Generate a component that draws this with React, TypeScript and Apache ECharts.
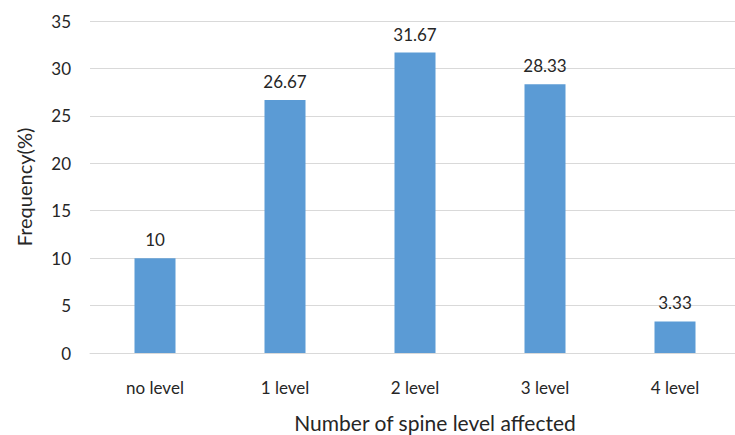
import React, { useEffect, useRef } from "react";
import * as echarts from "echarts";

const categories = ["no level", "1 level", "2 level", "3 level", "4 level"];
const frequencies = [10, 26.67, 31.67, 28.33, 3.33];
const yTicks = { min: 0, max: 35, interval: 5 };
const xTitle = "Number of spine level affected";
const yTitle = "Frequency(%)";

export default function App() {
  const ref = useRef<HTMLDivElement>(null);
  useEffect(() => {
    if (!ref.current) return;
    const chart = echarts.init(ref.current, undefined, { renderer: "svg" });
    const font = "Lato, 'Open Sans', sans-serif";
    chart.setOption({
      animation: false,
      backgroundColor: "#ffffff",
      grid: {
        left: 90,
        right: -5,
        top: 21,
        bottom: 82,
        containLabel: false,
        outerBoundsMode: "none",
      },
      xAxis: {
        type: "category",
        data: categories,
        name: xTitle,
        nameLocation: "middle",
        nameGap: 59,
        nameTextStyle: { color: "#262626", fontSize: 21, fontFamily: font, padding: [0, 0, 0, 40] },
        axisLine: { show: true, lineStyle: { color: "#d9d9d9", width: 1 } },
        axisTick: { show: false },
        axisLabel: { color: "#262626", fontSize: 17, fontFamily: font, margin: 26 },
      },
      yAxis: {
        type: "value",
        min: yTicks.min,
        max: yTicks.max,
        interval: yTicks.interval,
        name: yTitle,
        nameLocation: "middle",
        nameGap: 56,
        nameTextStyle: { color: "#262626", fontSize: 20, fontFamily: font },
        axisLine: { show: false },
        axisTick: { show: false },
        axisLabel: { color: "#262626", fontSize: 17, fontFamily: font, margin: 19 },
        splitLine: { lineStyle: { color: "#d9d9d9", width: 1 } },
      },
      series: [
        {
          type: "bar",
          data: frequencies,
          barWidth: 41,
          itemStyle: { color: "#5b9bd5" },
          label: {
            show: true,
            position: "top",
            distance: 10,
            color: "#262626",
            fontSize: 17,
            fontFamily: font,
          },
        },
      ],
    });
    return () => chart.dispose();
  }, []);
  return (
    <div
      ref={ref}
      style={{ position: "fixed", left: 0, top: 0, width: 735, height: 435, background: "#fff" }}
    />
  );
}
